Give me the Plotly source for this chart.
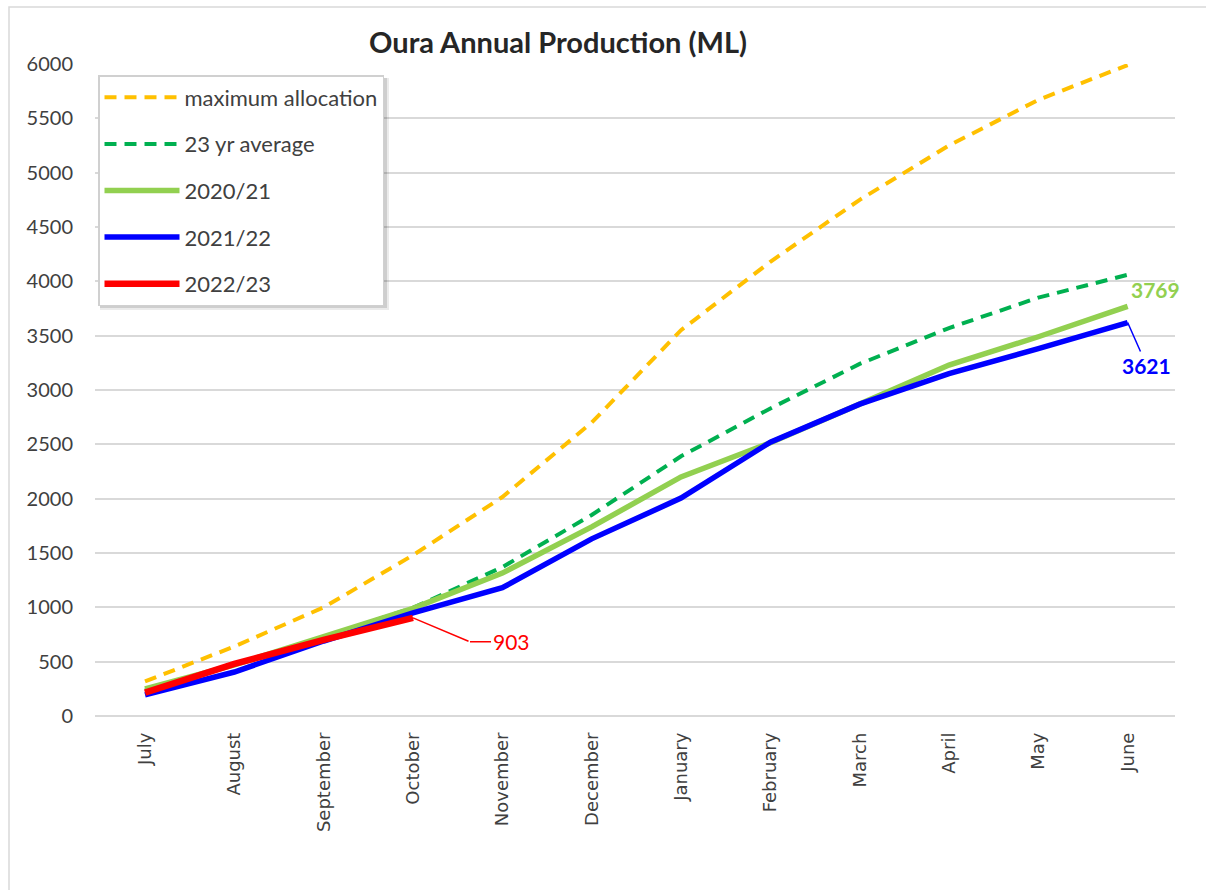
import plotly.graph_objects as go

months = ["July", "August", "September", "October", "November", "December",
          "January", "February", "March", "April", "May", "June"]
max_alloc = [318, 640, 1000, 1480, 2015, 2700, 3550, 4180, 4750, 5250, 5670, 5990]
avg_23yr = [235, 475, 725, 995, 1370, 1850, 2390, 2830, 3240, 3570, 3850, 4060]
y2020_21 = [250, 470, 730, 990, 1315, 1740, 2200, 2515, 2870, 3230, 3490, 3769]
y2021_22 = [195, 405, 690, 950, 1180, 1630, 2005, 2520, 2870, 3150, 3380, 3621]
y2022_23 = [215, 480, 700, 903]
y_ticks = [0, 500, 1000, 1500, 2000, 2500, 3000, 3500, 4000, 4500, 5000, 5500, 6000]

W, H = 1206, 890
L, R, T, B = 95, 1175, 64, 716

def px(x):
    return (x - L) / (R - L)

def py(y):
    return (B - y) / (B - T)

fig = go.Figure()
fig.add_trace(go.Scatter(x=months, y=max_alloc, mode="lines", name="maximum allocation",
                         line=dict(color="#FFC000", width=4, dash="12px,8px"), legendgroup="a"))
fig.add_trace(go.Scatter(x=months, y=avg_23yr, mode="lines", name="23 yr average",
                         line=dict(color="#00B050", width=4, dash="12px,8px"), legendgroup="b"))
fig.add_trace(go.Scatter(x=months, y=y2020_21, mode="lines", name="2020/21",
                         line=dict(color="#92D050", width=5.5), legendgroup="c"))
fig.add_trace(go.Scatter(x=months, y=y2021_22, mode="lines", name="2021/22",
                         line=dict(color="#0000FF", width=5.5), legendgroup="d"))
fig.add_trace(go.Scatter(x=months[:len(y2022_23)], y=y2022_23, mode="lines", name="2022/23",
                         line=dict(color="#FF0000", width=6.5), legendgroup="e"))

annotations = [
    # leader line (diagonal part) for the 2022/23 label
    dict(x=months[3], y=y2022_23[-1], text="", showarrow=True,
         arrowhead=0, arrowcolor="#FF0000", arrowwidth=1.5, ax=57, ay=24, standoff=0),
    # label with horizontal part of leader
    dict(x=months[3], y=y2022_23[-1], xshift=57, yshift=-24, text=str(y2022_23[-1]),
         showarrow=True, arrowhead=0, arrowcolor="#FF0000", arrowwidth=1.5, ax=41, ay=0,
         standoff=0, startstandoff=0, font=dict(color="#FF0000", size=21, family="Lato")),
    dict(x=months[-1], y=y2020_21[-1], text="<b>%d</b>" % y2020_21[-1], showarrow=False,
         xshift=28, yshift=17, font=dict(color="#92D050", size=21, family="Lato")),
    dict(x=months[-1], y=y2021_22[-1], text="<b>%d</b>" % y2021_22[-1], showarrow=True,
         arrowhead=0, arrowcolor="#0000FF", arrowwidth=1.5, ax=19, ay=43,
         font=dict(color="#0000FF", size=21, family="Lato")),
]

shapes = [
    # outer chart border
    dict(type="rect", xref="paper", yref="paper", x0=px(9), x1=px(1230), y0=py(910), y1=py(7),
         line=dict(color="#D9D9D9", width=1.5), fillcolor="rgba(0,0,0,0)", layer="below"),
    # soft legend shadow
    dict(type="rect", xref="paper", yref="paper", x0=px(100), x1=px(389), y0=py(310), y1=py(78),
         line=dict(width=0), fillcolor="rgba(0,0,0,0.08)", layer="above"),
    dict(type="rect", xref="paper", yref="paper", x0=px(100), x1=px(387), y0=py(308), y1=py(78),
         line=dict(width=0), fillcolor="rgba(0,0,0,0.12)", layer="above"),
]

fig.update_layout(
    width=W, height=H,
    margin=dict(l=L, r=W - R, t=T, b=H - B),
    paper_bgcolor="white", plot_bgcolor="white",
    title=dict(text="<b>Oura Annual Production (ML)</b>", x=558 / W, xref="container",
               xanchor="center", y=1 - 43 / H, yref="container", yanchor="middle",
               font=dict(size=29, family="Lato", color="#262626")),
    xaxis=dict(range=[-0.56, 11.53], tickangle=-90, showgrid=False, showline=False,
               ticks="", ticklabelstandoff=12,
               tickfont=dict(size=18, family="DejaVu Sans", color="#404040")),
    yaxis=dict(range=[0, 6000], tickvals=y_ticks, showgrid=True, gridcolor="#D9D9D9",
               gridwidth=1.5, zeroline=True, zerolinecolor="#D9D9D9", zerolinewidth=1.5,
               showline=False, ticks="", ticklabelstandoff=21,
               tickfont=dict(size=20, family="Lato", color="#404040")),
    legend=dict(x=px(98), y=py(75), xanchor="left", yanchor="top", bgcolor="white",
                bordercolor="#D0D0D0", borderwidth=1.5, tracegroupgap=15,
                font=dict(size=22, family="Lato", color="#404040"),
                itemwidth=75),
    showlegend=True,
    annotations=annotations,
    shapes=shapes,
)

fig.write_html("out.html", post_script="document.body.style.margin='0';",
               config={"displayModeBar": False})
